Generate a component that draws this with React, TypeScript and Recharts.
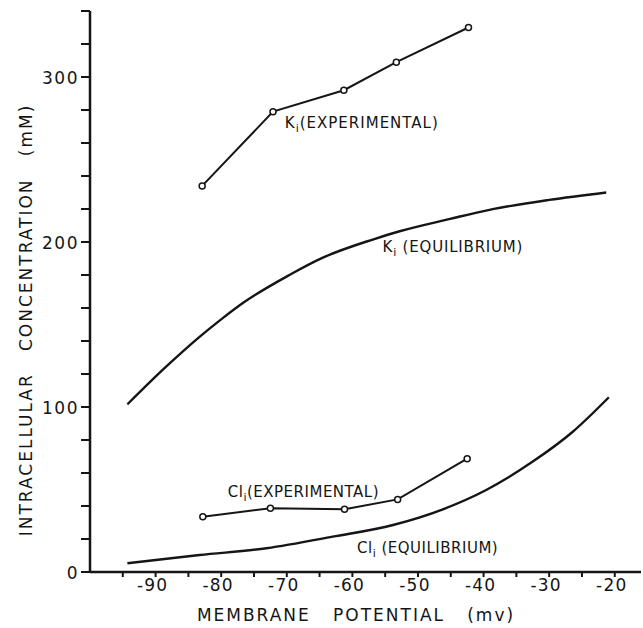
import { LineChart, Line, XAxis, YAxis, ReferenceDot } from 'recharts'

// membrane potential (mV) / intracellular concentration (mM)
const kExpMv = [-82.9, -72.1, -61.3, -53.3, -42.3]
const kExpMm = [234, 279, 292, 309, 330]
const clExpMv = [-82.8, -72.5, -61.2, -53.1, -42.5]
const clExpMm = [33.5, 38.6, 38, 44, 68.7]
const kEqMv = [-94.3, -88.4, -83.3, -80.2, -76.7, -69.6, -64.5, -56.9, -52.8, -45.1, -39.1, -30, -21.3]
const kEqMm = [101.6, 124.4, 142.5, 152.5, 163, 180, 190.5, 201.5, 206.5, 214, 219.5, 225.5, 230]
const clEqMv = [-94.3, -83.3, -73.1, -63, -53.8, -46.2, -39.6, -32.5, -26.4, -20.9]
const clEqMm = [5.3, 10.3, 14.4, 21.4, 28.5, 38, 49.7, 66.9, 85, 105.9]

const xTicks = [-95, -90, -85, -80, -75, -70, -65, -60, -55, -50, -45, -40, -35, -30, -25, -20]
const yTicks = [0, 20, 40, 60, 80, 100, 120, 140, 160, 180, 200, 220, 240, 260, 280, 300, 320, 340]

const curveLabels = [
  { at: [-70.3, 269], main: 'K', sub: 'i', rest: '(EXPERIMENTAL)', spacing: 1 },
  { at: [-55.4, 194], main: 'K', sub: 'i', rest: '\u00a0(EQUILIBRIUM)', spacing: 0.8 },
  { at: [-79.0, 45.5], main: 'Cl', sub: 'i', rest: '(EXPERIMENTAL)', spacing: 0.5 },
  { at: [-59.3, 11.5], main: 'Cl', sub: 'i', rest: '\u00a0(EQUILIBRIUM)', spacing: 0.5 },
]

const toPoints = (xs: number[], ys: number[]) => xs.map((x, i) => ({ x, y: ys[i] }))

const INK = '#151515'
const FONT = '"DejaVu Sans", Verdana, sans-serif'

function XTick({ x, y, payload }: any) {
  if (payload.value % 10 !== 0) return <g />
  return (
    <text x={x - 3} y={y} dy={14} textAnchor="middle" fontFamily={FONT} fontSize={17} letterSpacing={1.2} fill={INK}>
      {payload.value}
    </text>
  )
}

function YTick({ x, y, payload }: any) {
  if (payload.value % 100 !== 0) return <g />
  return (
    <text x={x} y={y} dy={7} textAnchor="end" fontFamily={FONT} fontSize={17} letterSpacing={1.5} fill={INK}>
      {payload.value}
    </text>
  )
}

function CurveLabel({ viewBox, main, sub, rest, spacing }: any) {
  return (
    <text x={viewBox.x} y={viewBox.y} fontFamily={FONT} fontSize={15} letterSpacing={spacing} fill={INK}>
      {main}
      <tspan fontSize={11} dy={4}>{sub}</tspan>
      <tspan dy={-4}>{rest}</tspan>
    </text>
  )
}

export default function App() {
  const expDot = { r: 3, stroke: INK, strokeWidth: 1.5, fill: '#fff' }
  return (
    <div style={{ position: 'absolute', left: 0, top: 0, width: 643, height: 628, background: '#fff' }}>
      <LineChart width={643} height={628} margin={{ top: 11, right: 2, left: 0, bottom: 0 }}>
        <XAxis
          type="number"
          dataKey="x"
          domain={[-100, -16]}
          ticks={xTicks}
          interval={0}
          allowDataOverflow
          axisLine={{ stroke: INK, strokeWidth: 2.5 }}
          tickLine={{ stroke: INK, strokeWidth: 2 }}
          tickSize={5}
          tickMargin={0}
          tick={<XTick />}
          height={56}
          label={{
            content: () => (
              <text
                x={356}
                y={621}
                textAnchor="middle"
                fontFamily={FONT}
                fontSize={17}
                letterSpacing={2}
                fill={INK}
              >
                {'MEMBRANE\u00a0\u00a0\u00a0POTENTIAL\u00a0\u00a0\u00a0(mv)'}
              </text>
            ),
          }}
        />
        <YAxis
          type="number"
          dataKey="y"
          domain={[0, 340]}
          ticks={yTicks}
          interval={0}
          allowDataOverflow
          axisLine={{ stroke: INK, strokeWidth: 2.5 }}
          tickLine={{ stroke: INK, strokeWidth: 2 }}
          tickSize={9}
          tickMargin={2}
          tick={<YTick />}
          width={90}
          label={{
            content: () => (
              <text
                x={26}
                y={320}
                transform="rotate(-90 26 320)"
                textAnchor="middle"
                dominantBaseline="central"
                fontFamily={FONT}
                fontSize={17}
                letterSpacing={2}
                fill={INK}
              >
                {'INTRACELLULAR\u00a0\u00a0\u00a0CONCENTRATION\u00a0\u00a0\u00a0(mM)'}
              </text>
            ),
          }}
        />
        <Line
          data={toPoints(kEqMv, kEqMm)}
          dataKey="y"
          type="monotone"
          stroke={INK}
          strokeWidth={2.4}
          dot={false}
          isAnimationActive={false}
        />
        <Line
          data={toPoints(clEqMv, clEqMm)}
          dataKey="y"
          type="monotone"
          stroke={INK}
          strokeWidth={2.4}
          dot={false}
          isAnimationActive={false}
        />
        <Line
          data={toPoints(kExpMv, kExpMm)}
          dataKey="y"
          type="linear"
          stroke={INK}
          strokeWidth={2}
          dot={expDot}
          activeDot={false}
          isAnimationActive={false}
        />
        <Line
          data={toPoints(clExpMv, clExpMm)}
          dataKey="y"
          type="linear"
          stroke={INK}
          strokeWidth={2}
          dot={expDot}
          activeDot={false}
          isAnimationActive={false}
        />
        {curveLabels.map((l) => (
          <ReferenceDot
            key={l.main + l.rest}
            x={l.at[0]}
            y={l.at[1]}
            r={0}
            fill="none"
            stroke="none"
            label={{ content: (p: any) => <CurveLabel viewBox={p.viewBox} {...l} /> }}
          />
        ))}
      </LineChart>
    </div>
  )
}
